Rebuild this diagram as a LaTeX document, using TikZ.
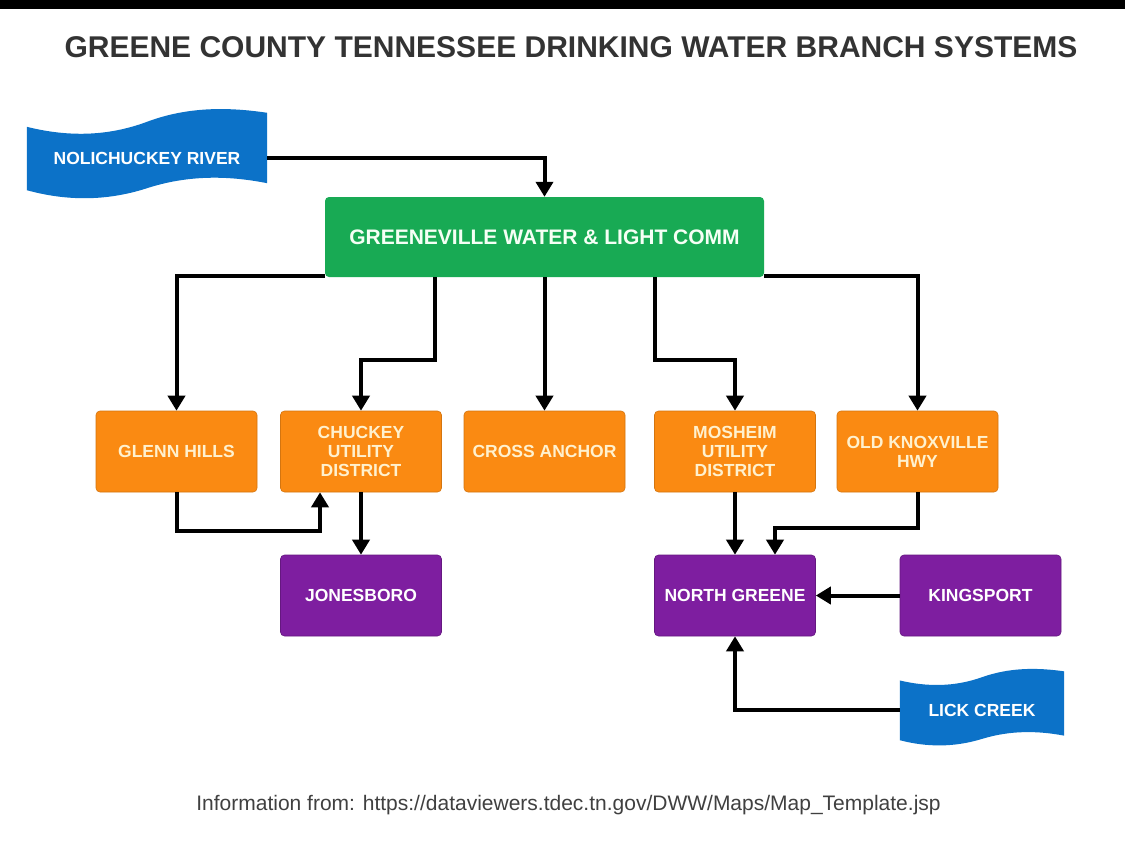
\documentclass[tikz,border=0pt]{standalone}
\usepackage{fontspec}
\setmainfont{Liberation Sans}
\usetikzlibrary{arrows.meta,positioning,calc,backgrounds}

\definecolor{hubgreen}{RGB}{24,170,84}
\definecolor{branchorange}{RGB}{250,138,18}
\definecolor{systempurple}{RGB}{126,30,160}
\definecolor{riverblue}{RGB}{12,114,200}
\definecolor{titlegray}{RGB}{51,51,51}
\definecolor{creditgray}{RGB}{64,64,64}
\definecolor{creamtext}{RGB}{255,241,206}

% wavy banner behind a source node, #2 scales the wave
\newcommand{\wavebanner}[2]{%
  \fill[riverblue] ($(#1.north west)+(0,{#2*1})$)
    .. controls ($(#1.north west)!0.1667!(#1.north east)+(0,{#2*11})$) and ($(#1.north west)!0.3333!(#1.north east)+(0,{#2*11})$)
    .. ($(#1.north west)!0.5!(#1.north east)+(0,{#2*-4})$)
    .. controls ($(#1.north west)!0.6667!(#1.north east)+(0,{#2*-19})$) and ($(#1.north west)!0.8333!(#1.north east)+(0,{#2*-19})$)
    .. ($(#1.north east)+(0,{#2*-13})$)
    -- ($(#1.south east)+(0,{#2*-7})$)
    .. controls ($(#1.south west)!0.8333!(#1.south east)+(0,{#2*-15})$) and ($(#1.south west)!0.6667!(#1.south east)+(0,{#2*-15})$)
    .. ($(#1.south west)!0.5!(#1.south east)+(0,{#2*-2})$)
    .. controls ($(#1.south west)!0.3333!(#1.south east)+(0,{#2*11})$) and ($(#1.south west)!0.1667!(#1.south east)+(0,{#2*11})$)
    .. (#1.south west)
    -- cycle;}

\begin{document}
\begin{tikzpicture}[x=1pt, y=-1pt,
    hub/.style={rectangle, rounded corners=4pt, fill=hubgreen, text=green!4,
      minimum width=439pt, minimum height=80pt, font=\fontsize{21}{23}\selectfont\bfseries},
    branch/.style={rectangle, rounded corners=4pt, fill=branchorange, draw=branchorange!85!black,
      line width=0.6pt, text=creamtext, minimum width=161pt, minimum height=81pt, inner sep=2pt,
      align=center, font=\fontsize{17.5}{19}\selectfont\bfseries},
    system/.style={branch, fill=systempurple, draw=systempurple!80!black, text=white},
    source/.style={rectangle, text=white, minimum width=240pt, minimum height=64pt,
      font=\fontsize{17.5}{19}\selectfont\bfseries},
    flow/.style={line width=4pt, -{Triangle[width=17pt,length=15pt]}}]

    \useasboundingbox (0,0) rectangle (1125,857);

    % --- title and credit ---
    \node[font=\fontsize{30}{32}\selectfont\bfseries, text=titlegray] (title) at (571,47)
      {GREENE COUNTY TENNESSEE DRINKING WATER BRANCH SYSTEMS};
    \node[font=\fontsize{21}{23}\selectfont, text=creditgray] (credit) at (568.5,805)
      {Information from: https://dataviewers.tdec.tn.gov/DWW/Maps/Map\_Template.jsp};

    % --- sources and main provider ---
    \node[source] (river) at (147,158) {NOLICHUCKEY RIVER};
    \node[hub] (gwlc) at (544.5,237) {GREENEVILLE WATER \& LIGHT COMM};

    % --- branch systems ---
    \node[branch] (glenn) at (176.5,451.5) {GLENN HILLS};
    \node[branch] (chuckey) at (361,451.5) {CHUCKEY\\UTILITY\\DISTRICT};
    \node[branch] (cross) at (544.5,451.5) {CROSS ANCHOR};
    \node[branch] (mosheim) at (735,451.5) {MOSHEIM\\UTILITY\\DISTRICT};
    \node[branch] (oldknox) at (917.5,451.5) {OLD KNOXVILLE\\HWY};

    % --- second level ---
    \node[system] (jonesboro) at (361,595.5) {JONESBORO};
    \node[system] (ngreene) at (735,595.5) {NORTH GREENE};
    \node[system] (kingsport) at (980.5,595.5) {KINGSPORT};
    \node[source, minimum width=164pt, minimum height=60pt] (lick) at (982,710) {LICK CREEK};

    \begin{scope}[on background layer]
      \fill[white] (0,0) rectangle (1125,857);
      \fill[black] (0,0) rectangle (1125,9);
      \wavebanner{river}{1}
      \wavebanner{lick}{0.65}
    \end{scope}

    % --- connectors ---
    \draw[flow] (river.east) -| (gwlc.north);
    \draw[flow] ([yshift=1pt]gwlc.south west) -| (glenn.north);
    \draw[flow] ([yshift=1pt]gwlc.south east) -| (oldknox.north);
    \draw[flow] ([xshift=-110pt]gwlc.south) -- ++(0,83) -| (chuckey.north);
    \draw[flow] (gwlc.south) -- (cross.north);
    \draw[flow] ([xshift=110pt]gwlc.south) -- ++(0,83) -| (mosheim.north);
    \draw[flow] (glenn.south) -- ++(0,39) -| ([xshift=-41pt]chuckey.south);
    \draw[flow] (chuckey.south) -- (jonesboro.north);
    \draw[flow] (mosheim.south) -- (ngreene.north);
    \draw[flow] (oldknox.south) -- ++(0,36) -| ([xshift=40pt]ngreene.north);
    \draw[flow] (kingsport.west) -- (ngreene.east);
    \draw[flow] (lick.west) -| (ngreene.south);
  \end{tikzpicture}
\end{document}
